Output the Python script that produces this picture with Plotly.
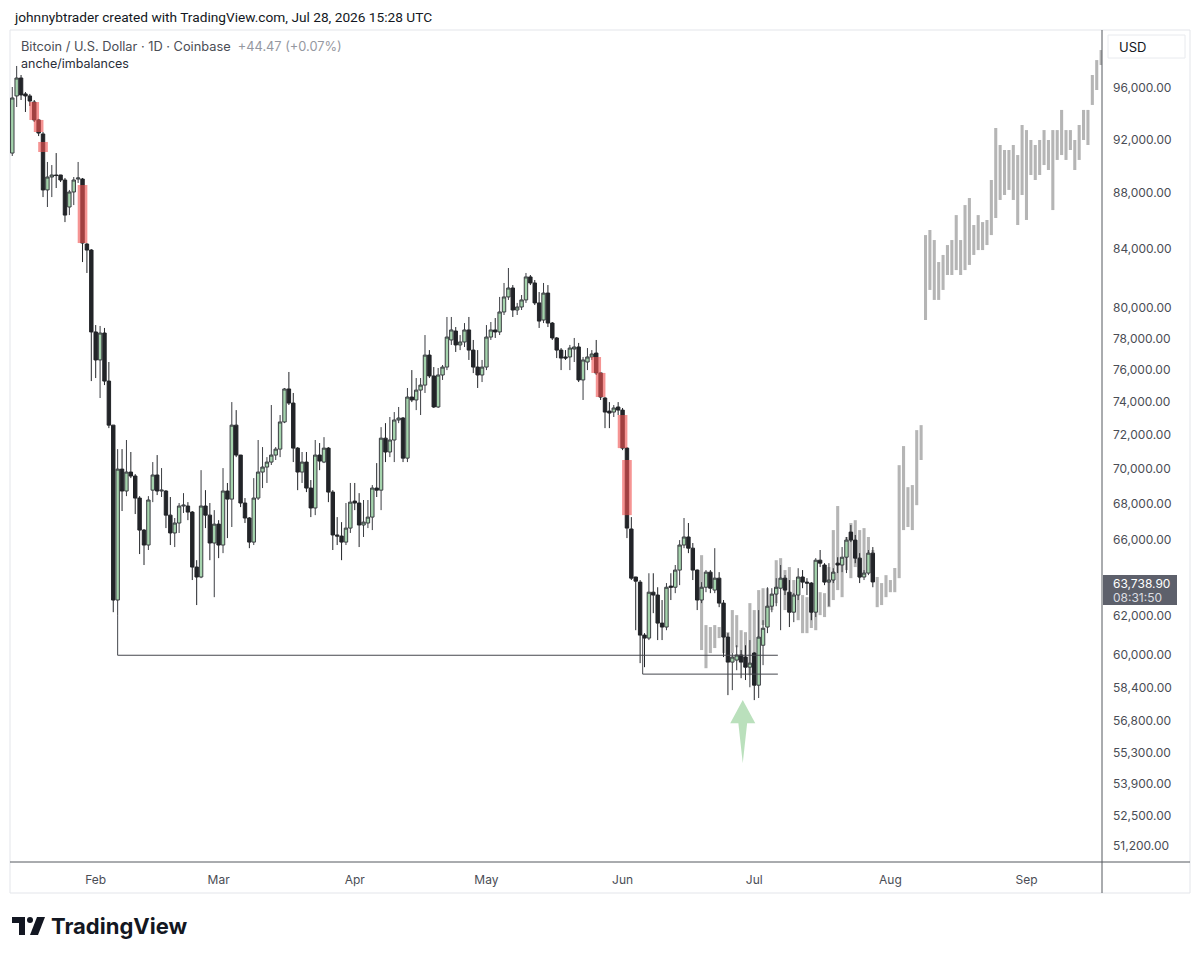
import plotly.graph_objects as go
import pandas as pd

# ---------------- data ----------------
START = "2026-01-13"
opens = [90960,95370,96800,95530,95370,94890,93490,92410,88220,89170,89320,89320,88950,86980,88070,89020,89020,84350,83930,78420,
         76620,78350,75290,72590,62790,69990,68730,69820,69590,68330,66540,65720,68780,69650,68730,68730,67370,66380,66930,67880,
         67880,67540,64530,64000,67880,67370,65830,66870,65720,68730,68270,72590,70810,68050,67210,65880,68330,69820,70110,70400,
         70810,71160,72780,74800,73930,71220,69820,70400,68900,67770,70810,70400,71220,68670,66270,66210,65880,66650,68160,68050,
         66820,66930,67260,68900,68780,71810,70990,71700,72900,73020,70630,74300,74120,74730,75040,76930,75610,73690,75670,76170,
         77900,78480,77580,77770,78550,77250,76170,75670,76170,78090,78550,78420,79730,80730,81330,79860,80060,80530,82080,81670,
         80330,79200,80990,79000,78030,77250,76810,76810,77320,77450,75360,76490,76810,77060,75800,74240,73440,73380,73690,73500,
         71220,66600,64000,63730,60990,60840,63200,63050,61600,61400,63520,63460,64370,65720,66160,65550,64370,62790,63460,64260,
         63310,63940,62630,60890,59640,59740,59990,59890,59390,60090,58510,60480,61400,62470,63100,63410,63940,63200,62160,63050,
         64000,63730,63680,62160,64900,64640,63730,63840,64740,64640,65060,66430,65990,65010,64000,64210,65280]
highs = [96080,97770,97040,95680,95530,95050,93570,92560,90290,90060,90960,89330,89100,88220,89170,90290,89100,84420,84000,78870,
         78810,78680,76490,72600,71160,71160,71700,70990,69700,68440,66600,68440,70400,70810,70050,68780,68390,67210,68050,68610,
         68100,67600,64900,69930,68780,68050,67650,67090,70050,69190,73990,73500,70820,68330,67260,69470,71700,71280,70690,73810,
         71280,73200,74860,75860,74550,71280,70990,70990,69360,71700,71520,71870,71280,68780,67260,66980,68050,69190,69190,68610,
         68220,68220,69070,70340,72470,72710,73080,73380,73690,73080,74860,75980,75480,75480,78220,77250,76170,76110,76300,79400,
         79400,78740,78220,79000,79400,77900,77250,76620,78870,79070,79330,80730,81670,82690,81530,80330,80860,82350,82210,81870,
         81060,81670,81530,79070,78090,77380,77250,77580,78030,77710,76810,77380,77250,77900,75830,74300,73990,73810,73990,73630,
         71280,67260,64010,63840,61090,64200,64200,63460,62790,63680,64200,64640,65990,67210,66930,65830,64400,63730,64370,64370,
         65550,64260,62790,61090,60090,60480,60240,60480,60740,60140,62270,61750,63460,63410,63940,64640,64100,63840,63150,64470,
         64370,63940,63730,65010,65450,64740,64740,64470,65060,65610,66160,66820,66270,65280,64370,65450,65610]
lows = [90740,94500,95050,94110,94580,93330,92250,87700,86980,87700,88360,88800,85900,86400,87120,88730,83100,82350,75290,75480,
        74240,75040,72410,62160,62010,67600,68440,69470,67430,65230,64640,65450,68100,68500,68390,66650,65720,65610,66380,67490,
        67090,63840,62530,63940,66650,64900,62940,65010,65280,66100,66710,70690,67820,66930,65550,65720,68220,68900,69190,70230,
        70520,70690,72710,73810,70400,68780,69190,68670,67260,67370,69930,70340,68100,65450,65720,64900,65720,66380,67650,65610,
        66160,66650,66540,68390,67650,70400,70690,70400,72710,70400,70400,73990,73500,73200,74550,75480,73630,73630,75360,75980,
        77580,77130,77250,77450,76620,75790,74860,75230,75980,77900,78030,78220,79530,80530,79400,79530,79860,80330,81530,80190,
        78680,79000,78740,77900,76740,75980,76620,75980,76490,75230,74120,75980,76620,75670,74120,72410,72410,73080,73200,71100,
        66100,63840,61240,59590,59390,60740,62110,60740,60740,61240,62790,63150,63570,65550,65280,63840,62270,62630,63200,63150,
        63150,62420,59890,58030,58270,59240,58850,58760,58410,57790,57890,59490,61090,62160,62470,61240,63050,61400,61650,62790,
        63410,63050,61750,61910,64530,63570,62470,63680,64210,64260,64210,65880,64740,63680,63840,64100,63460]
closes = [95210,96800,95450,95370,94970,93490,92480,88220,89170,89320,89280,88950,86400,88070,88950,89100,84420,83930,78420,76620,
          78350,75290,72590,62790,69990,68730,69820,69590,68330,66540,65720,68220,69650,68730,68780,67370,66380,66930,67880,67930,
          67540,64530,64000,67880,67370,65830,66870,65720,68730,68270,72590,70810,68050,67210,65880,68330,69820,70110,70400,70810,
          71160,72780,74800,73930,71220,69820,70400,68900,67770,70810,70460,71220,68670,66270,66210,65880,66650,68100,68050,66820,
          66980,67260,68900,68780,71810,70990,71700,72900,73020,70630,74300,74120,74730,75040,76930,75610,73690,75670,76170,78090,
          78550,77580,77770,78550,77250,76170,75670,76170,78090,78550,78420,79730,80730,81330,79860,80060,80530,82080,81670,80330,
          79130,80990,79000,78030,77250,76740,76740,77380,77450,75360,76620,76810,77000,75800,74300,73380,73320,73630,73500,71220,
          66650,63940,63780,60990,60840,63200,63050,61600,61400,63460,63460,64370,65720,66160,65550,64370,62790,63460,64260,63410,
          63940,62630,60890,59640,59890,59990,59640,59390,59590,58510,60890,61340,62470,63100,63460,63940,63310,62160,63050,64000,
          63730,63680,62160,64900,64740,63730,63840,64260,64640,65060,65990,65990,65010,64000,64210,65280,63738.9]

# projected "bars pattern" (gray HL bars)
GHOST_START = "2026-06-19"
ghost_high = [65170,61500,61400,61500,61400,60890,61140,62270,62010,61240,61140,62630,62270,63310,63410,63410,62840,64900,65010,64370,
              64530,63840,63050,63050,62940,62790,62790,63200,63150,64530,66540,67880,64900,66160,66930,67090,66540,66650,66160,65450,
              64000,63680,64100,63840,64480,70220,71340,68950,69070,72290,72590,84980,85340,84630,83100,83590,84280,84630,86400,84630,
              87120,87630,85690,86400,85900,86050,88950,92870,91570,91190,91190,91570,90810,93100,92710,91950,91570,91950,92710,91950,
              92710,92710,94270,92710,92710,91950,93100,94270,94270,97040,98250,99070]
ghost_low = [60240,59340,60090,60340,60840,60090,60140,60090,60380,59890,59840,59000,58760,60240,61500,62110,62270,62630,63460,62270,
             62420,62530,61750,61090,61090,61350,61240,62010,61910,62420,62790,63310,62940,64370,63940,64530,63940,64210,65060,64530,
             62420,62530,62940,63200,63200,63940,66540,66710,66540,67930,70520,79200,81200,80530,80530,81200,82210,82210,82550,82210,
             82550,82900,83590,83930,83930,84280,84980,86190,87490,87850,88220,87490,85690,87850,86050,89320,88950,89320,90060,89690,
             86760,90440,90810,90440,91190,89690,90440,91950,91570,94660,95840,97850]

# imbalance highlights
imb_dates = ["2026-01-18", "2026-01-19", "2026-01-20", "2026-01-29", "2026-05-26", "2026-05-27", "2026-06-01", "2026-06-02"]
imb_top = [94890, 93490, 91800, 88580, 76810, 75800, 73200, 70520]
imb_bot = [93490, 92560, 91040, 84420, 75800, 74300, 71220, 67370]

# drawn levels: (anchor date, anchor price, level price, end date)
levels = [("2026-02-06 00:00", 62010, 59980, "2026-07-06 09:00"),
          ("2026-06-05 14:00", 60990, 59050, "2026-07-06 09:00")]

arrow_date = "2026-06-28 09:00"
arrow_tip_price = 57790

tick_prices = [96000, 92000, 88000, 84000, 80000, 78000, 76000, 74000, 72000, 70000, 68000, 66000,
               62000, 60000, 58400, 56800, 55300, 53900, 52500, 51200]
month_ticks = ["2026-02-01", "2026-03-01", "2026-04-01", "2026-05-01", "2026-06-01", "2026-07-01", "2026-08-01", "2026-09-01"]
month_labels = ["Feb", "Mar", "Apr", "May", "Jun", "Jul", "Aug", "Sep"]

# ---------------- figure ----------------
dates = pd.date_range(START, periods=len(opens), freq="D")
gdates = pd.date_range(GHOST_START, periods=len(ghost_high), freq="D")
day = pd.Timedelta(days=1)
DAY_MS = 86400000

fig = go.Figure()

# imbalance boxes (behind)
for d, t, b in zip(imb_dates, imb_top, imb_bot):
    d = pd.Timestamp(d)
    fig.add_trace(go.Scatter(x=[d - 1.1 * day, d + 1.1 * day, d + 1.1 * day, d - 1.1 * day, d - 1.1 * day],
                             y=[b, b, t, t, b], fill="toself", mode="none",
                             fillcolor="rgba(239,83,80,0.62)", hoverinfo="skip", showlegend=False))

# gray projected HL bars
fig.add_trace(go.Bar(x=gdates, y=[h - l for h, l in zip(ghost_high, ghost_low)], base=ghost_low,
                     width=0.7 * DAY_MS, marker=dict(color="rgba(150,150,150,0.7)", line=dict(width=0)),
                     hoverinfo="skip", showlegend=False))

fig.add_trace(go.Candlestick(x=dates, open=opens, high=highs, low=lows, close=closes,
                             increasing=dict(fillcolor="#a5d4ad", line=dict(color="#3b3d42", width=1)),
                             decreasing=dict(fillcolor="#222428", line=dict(color="#222428", width=1)),
                             whiskerwidth=0, hoverinfo="skip", showlegend=False))

for a_d, a_p, lvl, e_d in levels:
    fig.add_trace(go.Scatter(x=[pd.Timestamp(a_d), pd.Timestamp(a_d), pd.Timestamp(e_d)], y=[a_p, lvl, lvl],
                             mode="lines", line=dict(color="#45474d", width=1), hoverinfo="skip", showlegend=False))

# green arrow
c = pd.Timestamp(arrow_date)
base = arrow_tip_price * 0.981
tail = arrow_tip_price * 0.949
fig.add_trace(go.Scatter(x=[c, c + 2.85 * day, c + 1.0 * day, c, c - 1.0 * day, c - 2.85 * day, c],
                         y=[arrow_tip_price, base, base, tail, base, base, arrow_tip_price],
                         fill="toself", mode="none", fillcolor="rgba(102,187,106,0.45)",
                         hoverinfo="skip", showlegend=False))

PL, PR, PT, PB = 10, 1102, 30, 862
def pxx(x):
    return (x - PL) / (PR - PL)
def pyy(y):
    return (PB - y) / (PB - PT)

FONT = "Inter, Roboto, sans-serif"
shapes = [
    dict(type="rect", xref="paper", yref="paper", x0=pxx(10), x1=pxx(1190), y0=pyy(30), y1=pyy(893),
         line=dict(color="#e3e5ea", width=1), layer="below"),
    dict(type="line", xref="paper", yref="paper", x0=pxx(10), x1=pxx(1190), y0=pyy(862), y1=pyy(862),
         line=dict(color="#55585f", width=1)),
    dict(type="line", xref="paper", yref="paper", x0=pxx(1102), x1=pxx(1102), y0=pyy(30), y1=pyy(893),
         line=dict(color="#55585f", width=1)),
    dict(type="rect", xref="paper", yref="paper", x0=pxx(1108), x1=pxx(1185), y0=pyy(35), y1=pyy(58),
         line=dict(color="#e8eaee", width=1), fillcolor="white"),
    dict(type="rect", xref="paper", yref="paper", x0=pxx(1103), x1=pxx(1177), y0=pyy(575), y1=pyy(605),
         line=dict(width=0), fillcolor="#5d606b"),
    # TradingView logo mark
    dict(type="rect", xref="paper", yref="paper", x0=pxx(12), x1=pxx(25), y0=pyy(917), y1=pyy(923),
         line=dict(width=0), fillcolor="#131722"),
    dict(type="rect", xref="paper", yref="paper", x0=pxx(19), x1=pxx(25), y0=pyy(917), y1=pyy(935),
         line=dict(width=0), fillcolor="#131722"),
    dict(type="circle", xref="paper", yref="paper", x0=pxx(27), x1=pxx(33), y0=pyy(917), y1=pyy(923),
         line=dict(width=0), fillcolor="#131722"),
    dict(type="path", xref="paper", yref="paper",
         path=f"M {pxx(37)} {pyy(917)} L {pxx(45)} {pyy(917)} L {pxx(38)} {pyy(935)} L {pxx(30)} {pyy(935)} Z",
         line=dict(width=0), fillcolor="#131722"),
]

annotations = [
    dict(text="johnnybtrader created with TradingView.com, Jul 28, 2026 15:28 UTC", x=pxx(12), y=pyy(17),
         font=dict(size=13.7, color="#131722", family="Roboto, sans-serif")),
    dict(text="Bitcoin / U.S. Dollar · 1D · Coinbase&nbsp;&nbsp;<span style='color:#9598a1'>+44.47 (+0.07%)</span>",
         x=pxx(19), y=pyy(46), font=dict(size=12.8, color="#4a4d55", family=FONT)),
    dict(text="anche/imbalances", x=pxx(19), y=pyy(64), font=dict(size=12.5, color="#2a2e39", family=FONT)),
    dict(text="USD", x=pxx(1117), y=pyy(47), font=dict(size=13, color="#131722", family=FONT)),
    dict(text="63,738.90", x=pxx(1111), y=pyy(583), font=dict(size=12, color="white", family=FONT)),
    dict(text="08:31:50", x=pxx(1111), y=pyy(597), font=dict(size=12, color="#dcdde1", family=FONT)),
    dict(text="<b>TradingView</b>", x=pxx(49), y=pyy(926), font=dict(size=22, color="#131722", family=FONT)),
]
for a in annotations:
    a.update(xref="paper", yref="paper", xanchor="left", yanchor="middle", showarrow=False)

x0 = pd.Timestamp(START) - 0.52 * day
x1 = pd.Timestamp(START) + 248.2 * day

fig.update_layout(
    width=1200, height=958,
    margin=dict(l=PL, r=1200 - PR, t=PT, b=958 - PB),
    paper_bgcolor="white", plot_bgcolor="white",
    showlegend=False, hovermode=False,
    boxgap=0.22, boxgroupgap=0.0, barmode="overlay",
    shapes=shapes, annotations=annotations,
    font=dict(family=FONT, color="#4a4d55", size=12),
    xaxis=dict(type="date", range=[x0, x1], rangeslider=dict(visible=False), showgrid=False, zeroline=False,
               showline=False, tickvals=month_ticks, ticktext=month_labels, ticks="", ticklabelstandoff=9,
               tickfont=dict(size=12, color="#4a4d55", family=FONT)),
    yaxis=dict(type="log", side="right", range=[4.70356, 5.00316], showgrid=False, zeroline=False, showline=False,
               tickvals=tick_prices, ticktext=[f"{v:,.2f}" for v in tick_prices], ticks="", ticklabelstandoff=10,
               tickfont=dict(size=12, color="#4a4d55", family=FONT)),
)

fig.write_html("out.html")
